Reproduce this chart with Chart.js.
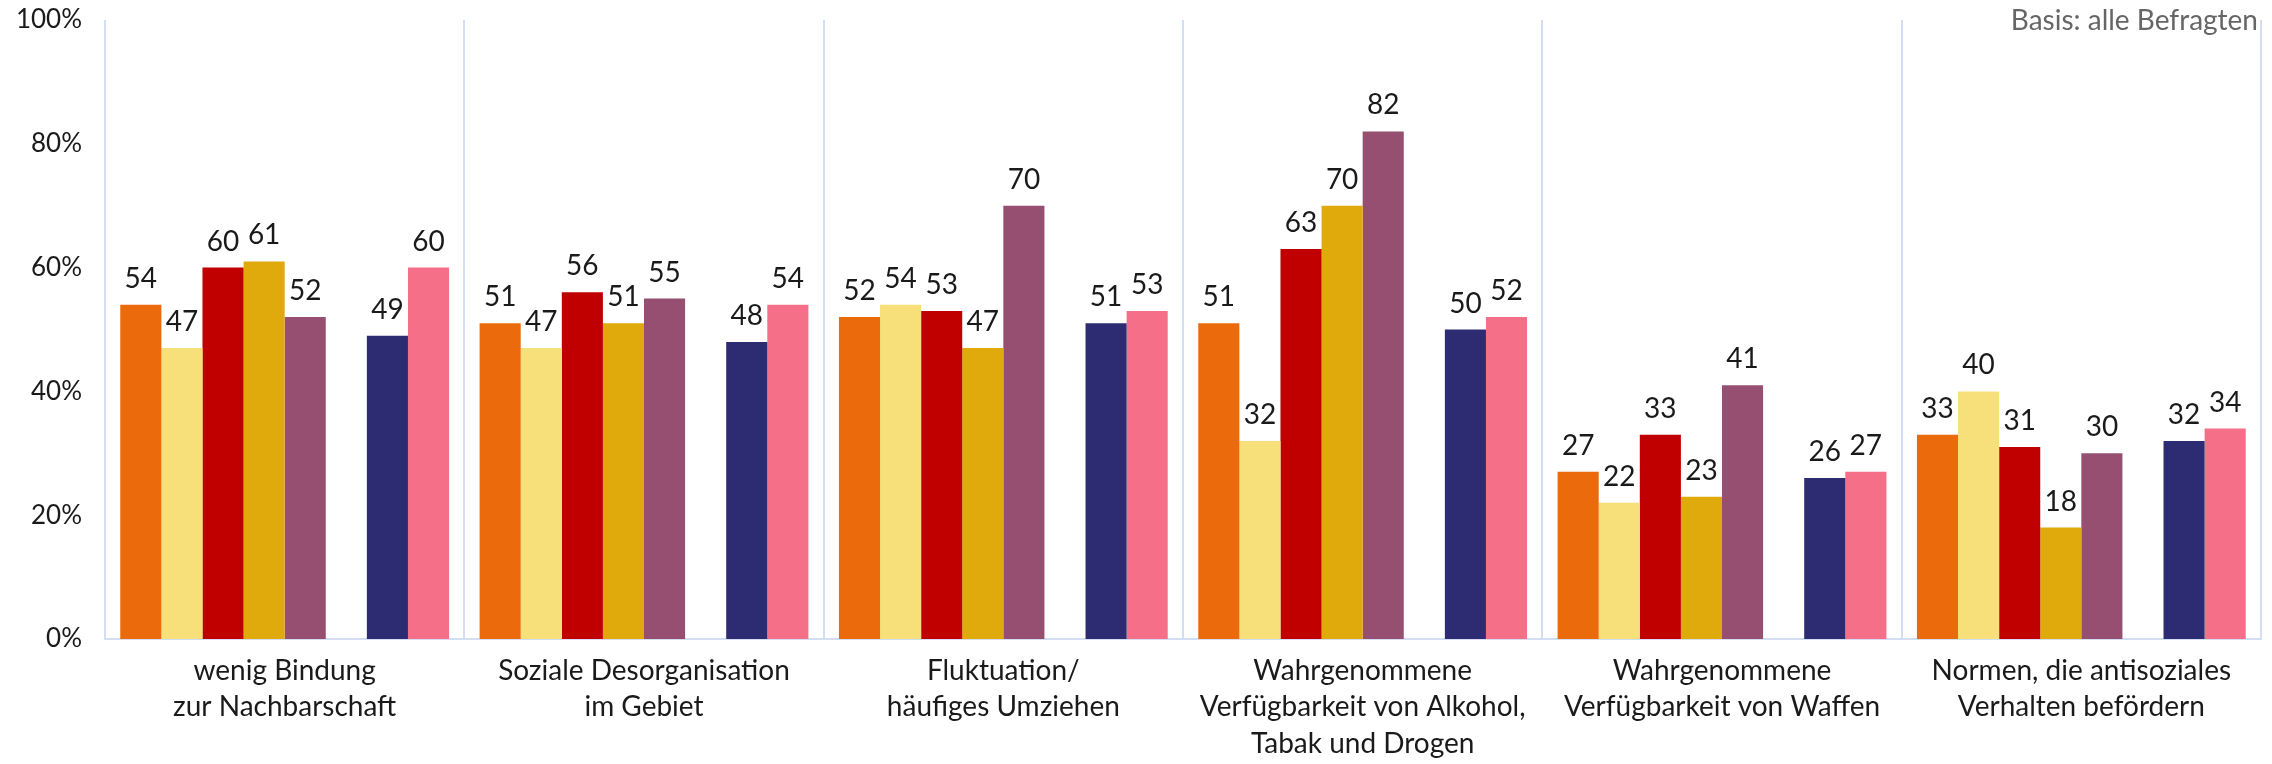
<!DOCTYPE html>
<html>
<head>
<meta charset="utf-8">
<script src="https://cdn.jsdelivr.net/npm/chart.js@4/dist/chart.umd.min.js"></script>
<style>
  html, body { margin: 0; padding: 0; background: #fff; }
  .contents { position: relative; width: 2272px; height: 764px; }
  .basis { position: absolute; right: 14px; top: 2px; font: 28px Lato, sans-serif; color: #666; }
</style>
</head>
<body>
<div class="contents">
  <canvas id="risk_chart" width="2272" height="764"></canvas>
  <div class="basis">Basis: alle Befragten</div>
</div>
<script>
// Kategorien (x-Achse)
const categories = [
  ["wenig Bindung", "zur Nachbarschaft"],
  ["Soziale Desorganisation", "im Gebiet"],
  ["Fluktuation/", "häufiges Umziehen"],
  ["Wahrgenommene", "Verfügbarkeit von Alkohol,", "Tabak und Drogen"],
  ["Wahrgenommene", "Verfügbarkeit von Waffen"],
  ["Normen, die antisoziales", "Verhalten befördern"],
];

// Werte in %
const serie1 = [54, 51, 52, 51, 27, 33];
const serie2 = [47, 47, 54, 32, 22, 40];
const serie3 = [60, 56, 53, 63, 33, 31];
const serie4 = [61, 51, 47, 70, 23, 18];
const serie5 = [52, 55, 70, 82, 41, 30];
const luecke = [null, null, null, null, null, null];
const serie6 = [49, 48, 51, 50, 26, 32];
const serie7 = [60, 54, 53, 52, 27, 34];

const yTicks = [0, 20, 40, 60, 80, 100];

const colors = ["#EA6A0C", "#F7DF7A", "#C00000", "#E0A90C", "#964F70", "#ffffff", "#2D2C73", "#F46F87"];
const series = [serie1, serie2, serie3, serie4, serie5, luecke, serie6, serie7];

const FONT = "Lato, sans-serif";

// Werte über den Balken
const valueLabels = {
  id: "valueLabels",
  afterDatasetsDraw(chart) {
    const ctx = chart.ctx;
    ctx.save();
    ctx.font = "28px " + FONT;
    ctx.fillStyle = "#1a1a1a";
    ctx.textAlign = "center";
    ctx.textBaseline = "middle";
    chart.data.datasets.forEach((ds, i) => {
      chart.getDatasetMeta(i).data.forEach((bar, j) => {
        const v = ds.data[j];
        if (v === null) return;
        ctx.fillText(v, bar.x, bar.y - 26);
      });
    });
    ctx.restore();
  },
};

let context = document.querySelector("#risk_chart").getContext("2d");
new Chart(context, {
  type: "bar",
  data: {
    labels: categories,
    datasets: series.map((d, i) => ({
      data: d,
      backgroundColor: colors[i],
      categoryPercentage: 0.915,
      barPercentage: 1.0,
    })),
  },
  options: {
    responsive: false,
    animation: false,
    layout: { autoPadding: false, padding: { top: 20, right: 11, left: 0, bottom: 0 } },
    scales: {
      x: {
        grid: { display: true, offset: true, color: "#d3def2", lineWidth: 2, drawTicks: false },
        border: { display: true, color: "#d3def2", width: 2 },
        ticks: {
          color: "#1a1a1a",
          font: { family: FONT, size: 28, lineHeight: 1.32 },
          padding: 13,
          maxRotation: 0,
          autoSkip: false,
        },
        afterFit: (s) => { s.height = 125; s.paddingTop = 0; s.paddingBottom = 0; },
      },
      y: {
        min: 0,
        max: 100,
        afterBuildTicks: (s) => { s.ticks = yTicks.map((v) => ({ value: v })); },
        grid: { display: false, drawTicks: false },
        border: { display: false },
        ticks: {
          color: "#1a1a1a",
          font: { family: FONT, size: 26 },
          padding: 23,
          callback: function (value) {
            return value + "%";
          },
        },
        afterFit: (s) => { s.width = 105; s.paddingTop = 0; s.paddingBottom = 0; },
      },
    },
    plugins: {
      legend: { display: false },
      tooltip: { enabled: false },
    },
  },
  plugins: [valueLabels],
});
</script>
</body>
</html>
